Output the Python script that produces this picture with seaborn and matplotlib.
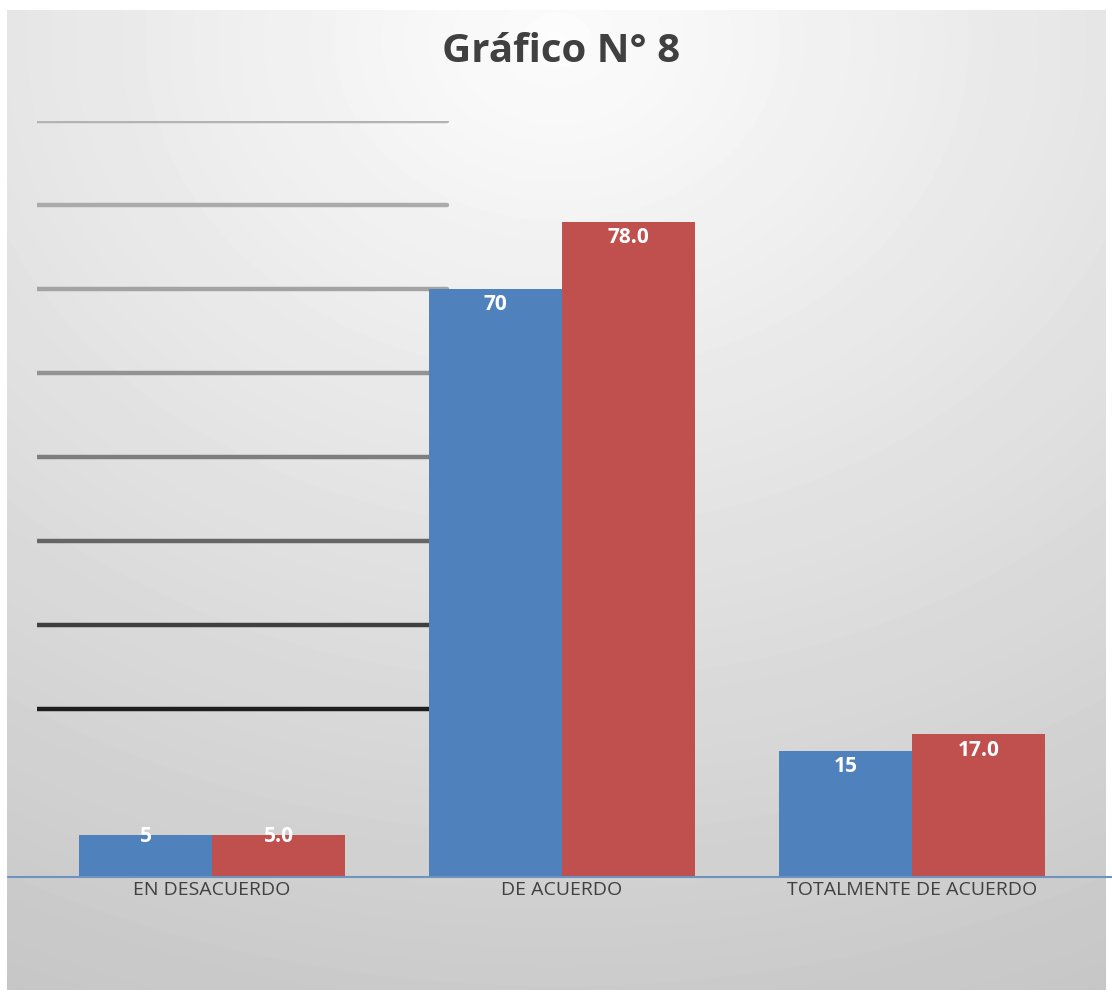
import numpy as np
import pandas as pd
import seaborn as sns
import matplotlib.pyplot as plt

# data
categorias = ['EN DESACUERDO', 'DE ACUERDO', 'TOTALMENTE DE ACUERDO']
frecuencia = [5, 70, 15]
porcentaje = [5.0, 78.0, 17.0]
series = ['Frecuencia', 'Porcentaje']
niveles = [20, 30, 40, 50, 60, 70, 80, 90]

df = pd.DataFrame({
    'categoria': categorias * 2,
    'valor': frecuencia + porcentaje,
    'serie': [series[0]] * 3 + [series[1]] * 3,
})

sns.set_style('white')
plt.rcParams['font.family'] = ['Open Sans', 'DejaVu Sans']

fig = plt.figure(figsize=(11.12, 9.93), dpi=100)
fig.patch.set_facecolor('white')

# radial grey background
bg = fig.add_axes([7 / 1112, 3 / 993, 1099 / 1112, 980 / 993], zorder=-1)
H, W = 980, 1099
yy, xx = np.mgrid[0:H, 0:W]
d = np.sqrt(((xx - 550) / (1.1 * W)) ** 2 + ((yy - 30) / H) ** 2)
img = np.clip(0.99 - 0.2 * d, 0, 1)
bg.imshow(img, cmap='gray', vmin=0, vmax=1, aspect='auto', interpolation='bilinear')
bg.axis('off')

ax = fig.add_axes([37 / 1112, 1 - 877 / 993, 1050 / 1112, (877 - 121) / 993])
ax.set_facecolor('none')

sns.barplot(data=df, x='categoria', y='valor', hue='serie', order=categorias,
            palette=['#4F81BD', '#C0504D'], width=0.76, saturation=1,
            linewidth=0, legend=False, ax=ax, zorder=2)

ax.set_xlim(-0.5, 2.5)
ax.set_ylim(0, 90)

# odd partial gridlines on the left, light at top to dark at bottom
tonos = ['#1e1e1e', '#3f3f3f', '#666666', '#7e7e7e', '#939393', '#a3a3a3', '#ababab', '#b3b3b3']
for nivel, tono in zip(niveles, tonos):
    ax.axhline(nivel, xmin=0, xmax=0.39, color=tono, lw=3.2, zorder=1)

ax.axhline(0, xmin=-0.028, xmax=1.03, color='#6f93bf', lw=1.5, clip_on=False, zorder=3)

for cont, fmt in zip(ax.containers, ['{:.0f}', '{:.1f}']):
    for barra in cont:
        h = barra.get_height()
        off = -1 if h < 10 else -11.5
        ax.annotate(fmt.format(h), (barra.get_x() + barra.get_width() / 2, h),
                    xytext=(0, off), textcoords='offset points', ha='center', va='center',
                    color='white', fontsize=15, fontweight='bold', zorder=4)

ax.set_xlabel('')
ax.set_ylabel('')
ax.set_yticks([])
ax.tick_params(axis='x', length=0, pad=3, labelsize=14, labelcolor='#404040')
sns.despine(ax=ax, left=True, bottom=True)

fig.text(0.505, 1 - 52 / 993, 'Gráfico N° 8', ha='center', va='center',
         fontsize=29, fontweight='bold', color='#404040')

fig.savefig('out.png', dpi=100)
